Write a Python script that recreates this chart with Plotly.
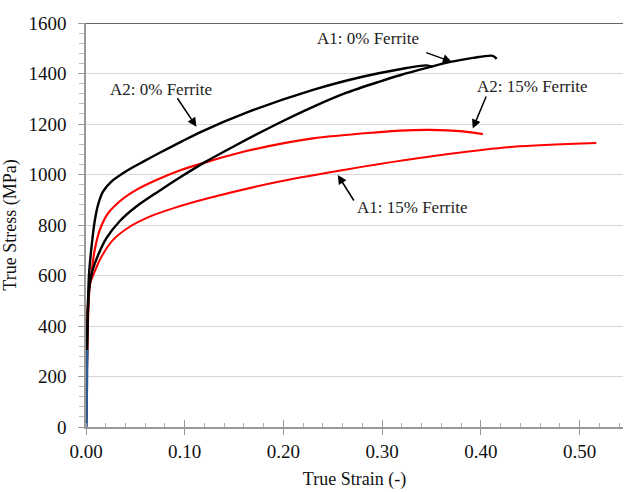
import plotly.graph_objects as go

# ---- data ----
a2_0_x = [0, 0.003, 0.0065, 0.0088, 0.0122, 0.0172, 0.0257, 0.041, 0.058, 0.0747, 0.0966, 0.116, 0.1625, 0.23, 0.28, 0.318, 0.345, 0.351]
a2_0_y = [0, 600, 745, 815, 880, 932, 972, 1014, 1051, 1086, 1130, 1168, 1245, 1335, 1387, 1417, 1432, 1426]

a1_0_x = [0, 0.003, 0.0061, 0.0122, 0.0207, 0.0341, 0.051, 0.073, 0.095, 0.121, 0.150, 0.196, 0.230, 0.264, 0.2975, 0.318, 0.345, 0.368, 0.392, 0.412, 0.416]
a1_0_y = [0, 540, 612, 680, 748, 815, 873, 932, 988, 1050, 1112, 1205, 1268, 1324, 1368, 1393, 1422, 1445, 1462, 1470, 1458]

a2_15_x = [0, 0.003, 0.0055, 0.0088, 0.0139, 0.0223, 0.0358, 0.051, 0.0713, 0.0949, 0.1236, 0.1625, 0.23, 0.2975, 0.318, 0.348, 0.382, 0.402]
a2_15_y = [0, 520, 609, 701, 780, 846, 899, 939, 978, 1016, 1051, 1093, 1143, 1168, 1174, 1177, 1171, 1160]

a1_15_x = [0, 0.0034, 0.0088, 0.0156, 0.0274, 0.0443, 0.0645, 0.088, 0.1236, 0.196, 0.264, 0.2975, 0.318, 0.365, 0.433, 0.517]
a1_15_y = [0, 556, 615, 674, 741, 793, 833, 866, 906, 972, 1020, 1042, 1054, 1080, 1110, 1125]

elastic_x = [0, 0.0004, 0.0001, 0.0005, 0.0008]
elastic_y = [0, 40, 90, 180, 305]

x_ticks = [0.0, 0.1, 0.2, 0.3, 0.4, 0.5]
y_ticks = [0, 200, 400, 600, 800, 1000, 1200, 1400, 1600]

FONT = "Liberation Serif, Times New Roman, serif"

fig = go.Figure()
spl = dict(shape="spline", smoothing=0.8)
fig.add_trace(go.Scatter(x=a1_15_x, y=a1_15_y, mode="lines", line=dict(color="#ff0000", width=2, **spl), name="A1: 15% Ferrite"))
fig.add_trace(go.Scatter(x=a2_15_x, y=a2_15_y, mode="lines", line=dict(color="#ff0000", width=2.2, **spl), name="A2: 15% Ferrite"))
fig.add_trace(go.Scatter(x=a1_0_x, y=a1_0_y, mode="lines", line=dict(color="#000000", width=2.4, **spl), name="A1: 0% Ferrite"))
fig.add_trace(go.Scatter(x=a2_0_x, y=a2_0_y, mode="lines", line=dict(color="#000000", width=2.4, **spl), name="A2: 0% Ferrite"))
fig.add_trace(go.Scatter(x=elastic_x, y=elastic_y, mode="lines", line=dict(color="#2e5c97", width=3.5), name="elastic"))

# labels with arrows (text and arrow drawn separately)
labels = [
    ("A1: 0% Ferrite", 0.2854, 1537, 0.3432, 1485, 0.3706, 1446),
    ("A2: 15% Ferrite", 0.4516, 1347, 0.4060, 1315, 0.3918, 1182),
    ("A2: 0% Ferrite", 0.0762, 1335, 0.0916, 1308, 0.1119, 1189),
    ("A1: 15% Ferrite", 0.3305, 871, 0.2723, 891, 0.2551, 998),
]
for txt, tx, ty, ax, ay, hx, hy in labels:
    fig.add_annotation(x=tx, y=ty, text=txt, showarrow=False,
                       font=dict(family=FONT, size=17, color="#222"))
    fig.add_annotation(x=hx, y=hy, ax=ax, ay=ay, axref="x", ayref="y", text="",
                       showarrow=True, arrowhead=2, arrowsize=1.2, arrowwidth=1.5,
                       arrowcolor="#000")

# top frame line
fig.add_shape(type="line", xref="paper", yref="y", x0=0, x1=1, y0=1600, y1=1600,
              line=dict(color="#333", width=1.5))

fig.update_layout(
    width=625, height=492,
    margin=dict(l=86, r=2, t=23, b=65),
    paper_bgcolor="white", plot_bgcolor="white",
    showlegend=False,
    font=dict(family=FONT, size=19, color="#111"),
    xaxis=dict(range=[0, 0.544], tickvals=x_ticks, tickformat=".2f",
               ticks="outside", ticklen=6, tickcolor="#999", tickwidth=1,
               minor=dict(dtick=0.02, tick0=0, ticks="inside", ticklen=4, tickcolor="#aaa"),
               showline=True, linecolor="#999", linewidth=1.5, showgrid=False, zeroline=False,
               title=dict(text="True Strain (-)", font=dict(size=18), standoff=12),
               ticklabelstandoff=0),
    xaxis2=dict(range=[0, 0.544], overlaying="x", tickvals=x_ticks, showticklabels=False,
                ticks="inside", ticklen=7, tickcolor="#999", showgrid=False, zeroline=False,
                side="bottom"),
    yaxis=dict(range=[0, 1600], tickvals=y_ticks,
               ticks="outside", ticklen=6, tickcolor="#999",
               minor=dict(dtick=40, tick0=0, ticks="outside", ticklen=5, tickcolor="#bbb"),
               showline=True, linecolor="#999", linewidth=1.5,
               showgrid=True, gridcolor="#d6d6d6", gridwidth=1, zeroline=False,
               title=dict(text="True Stress (MPa)", font=dict(size=18), standoff=8),
               ticklabelstandoff=8),
)
# invisible trace so xaxis2 is drawn
fig.add_trace(go.Scatter(x=[0], y=[0], xaxis="x2", mode="markers", marker=dict(opacity=0), hoverinfo="skip", showlegend=False))

fig.write_html("out.html")
